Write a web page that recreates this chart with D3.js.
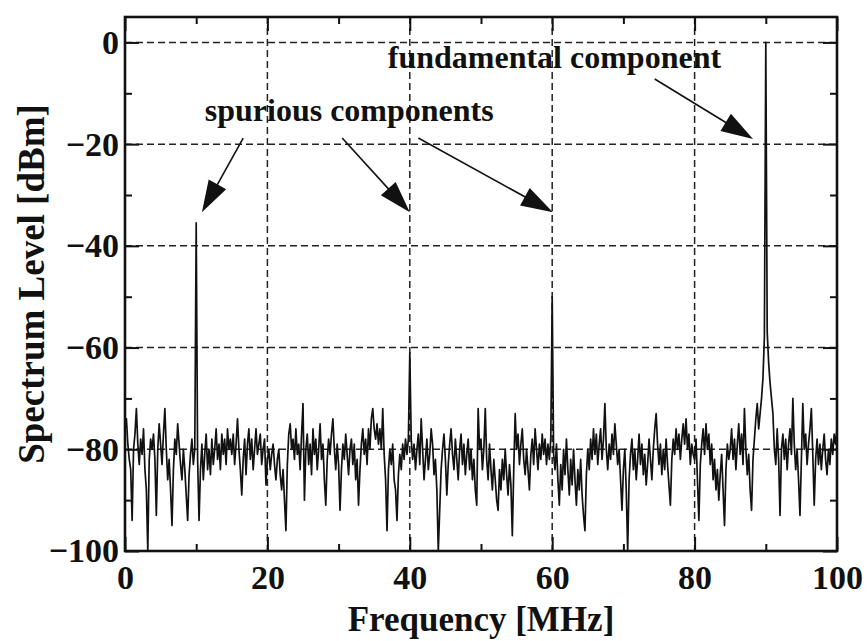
<!DOCTYPE html>
<html>
<head>
<meta charset="utf-8">
<script src="https://cdn.jsdelivr.net/npm/d3@7"></script>
<style>
  body { margin: 0; background: white; }
  svg { display: block; }
  text { font-family: "Liberation Serif", "Times New Roman", serif; font-weight: bold; fill: #111; }
</style>
</head>
<body>
<script>
var freqStep = 0.2;
var levels = [
  -76,-74,-79,-82,-84,-94,-80,-77,-72,-79,-83,-78,-81,-76,-84,-88,-100,-82,-78,-80,-77,-82,-93,-80,-75,
  -79,-83,-77,-72,-80,-86,-82,-88,-95,-84,-78,-81,-75,-79,-83,-86,-80,-84,-89,-94,-85,-81,-78,-83,-80,
  -35.5,-82,-94,-84,-79,-86,-81,-77,-84,-80,-85,-78,-83,-80,-76,-82,-79,-84,-77,-81,-78,-83,-76,-80,-78,
  -81,-77,-83,-79,-74,-80,-84,-89,-82,-78,-85,-79,-76,-82,-78,-84,-80,-76,-81,-79,-77,-83,-80,-78,-87,
  -82,-80,-84,-81,-79,-83,-86,-82,-80,-85,-88,-84,-90,-96,-83,-77,-75,-80,-78,-82,-76,-81,-79,-84,-77,
  -71,-90,-80,-77,-83,-79,-85,-76,-81,-78,-84,-80,-75,-82,-79,-86,-91,-82,-78,-81,-77,-74,-80,-84,-79,
  -83,-92,-84,-79,-82,-77,-81,-85,-80,-78,-83,-79,-86,-82,-91,-84,-79,-76,-81,-78,-83,-76,-80,-74,-72,
  -76,-78,-75,-79,-76,-80,-72,-81,-86,-96,-84,-80,-83,-79,-86,-88,-94,-85,-81,-84,-79,-82,-78,-81,-78,
  -61,-78,-82,-79,-84,-80,-77,-83,-74,-80,-86,-82,-78,-84,-81,-76,-79,-85,-82,-88,-100,-92,-84,-80,-77,
  -82,-89,-83,-79,-76,-81,-84,-78,-82,-86,-80,-77,-83,-79,-85,-81,-78,-84,-80,-86,-82,-88,-91,-72,-80,
  -78,-84,-80,-72,-82,-86,-79,-84,-88,-82,-86,-90,-92,-84,-88,-82,-86,-80,-85,-89,-83,-87,-97,-84,-73,
  -80,-77,-83,-79,-76,-82,-85,-80,-84,-88,-81,-78,-83,-76,-80,-84,-79,-82,-77,-81,-78,-83,-79,-82,-78,
  -50,-81,-84,-79,-86,-91,-83,-88,-80,-85,-78,-84,-89,-82,-87,-80,-86,-91,-84,-88,-82,-89,-93,-96,-85,
  -80,-84,-78,-82,-76,-81,-77,-83,-79,-76,-82,-78,-71,-80,-84,-79,-82,-77,-81,-75,-79,-83,-80,-86,-92,
  -84,-80,-88,-100,-86,-81,-78,-84,-80,-86,-82,-77,-83,-79,-85,-81,-87,-83,-78,-82,-86,-80,-76,-73,-79,
  -83,-79,-85,-80,-84,-78,-83,-87,-91,-82,-78,-81,-76,-80,-77,-82,-78,-75,-79,-74,-80,-77,-83,-79,-81,
  -82,-78,-86,-94,-83,-79,-76,-81,-75,-80,-77,-83,-79,-86,-82,-88,-84,-90,-85,-81,-88,-95,-84,-79,-82,
  -80,-76,-82,-78,-84,-79,-75,-81,-77,-83,-72,-80,-85,-81,-88,-92,-82,-78,-74,-71,-76,-73,-70,-66,-58,
  0,-57,-63,-67,-70,-73,-80,-83,-76,-82,-93,-80,-77,-82,-78,-84,-79,-76,-81,-70,-79,-84,-80,-86,-93,
  -82,-71,-80,-77,-83,-79,-76,-72,-81,-91,-82,-78,-83,-79,-84,-80,-77,-82,-85,-80,-83,-78,-81,-77,-79,
  -76
];
var xTicks = [0, 20, 40, 60, 80, 100];
var xMinor = [10, 30, 50, 70, 90];
var yTicks = [0, -20, -40, -60, -80, -100];
var yMinor = [-10, -30, -50, -70, -90];
var xTitle = "Frequency [MHz]";
var yTitle = "Spectrum Level [dBm]";

var W = 867, H = 641;
var pLeft = 125, pRight = 837, pTop = 17, pBottom = 551;

var svg = d3.select("body").append("svg")
    .attr("width", W).attr("height", H);
svg.append("rect").attr("width", W).attr("height", H).attr("fill", "white");

var x = d3.scaleLinear().domain([0, 100]).range([pLeft, pRight]);
var y = d3.scaleLinear().domain([-100, 5]).range([pBottom, pTop]);

// dashed grid
var grid = svg.append("g").attr("class", "grid");
grid.selectAll(".gx")
    .data(xTicks.filter(function(d) { return d > 0 && d < 100; }))
    .enter().append("line")
    .attr("x1", function(d) { return x(d); }).attr("x2", function(d) { return x(d); })
    .attr("y1", pTop).attr("y2", pBottom);
grid.selectAll(".gy")
    .data(yTicks.filter(function(d) { return d > -100; }))
    .enter().append("line")
    .attr("x1", pLeft).attr("x2", pRight)
    .attr("y1", function(d) { return y(d); }).attr("y2", function(d) { return y(d); });
grid.selectAll("line")
    .attr("stroke", "#222").attr("stroke-width", 1.5).attr("stroke-dasharray", "7,4");

// spectrum trace
svg.append("clipPath").attr("id", "plotclip")
  .append("rect").attr("x", pLeft).attr("y", pTop).attr("width", pRight - pLeft).attr("height", pBottom - pTop);

var line = d3.line()
    .x(function(d, i) { return x(i * freqStep); })
    .y(function(d) { return y(Math.max(d, -100)); });

svg.append("path")
    .datum(levels)
    .attr("clip-path", "url(#plotclip)")
    .attr("d", line)
    .attr("fill", "none")
    .attr("stroke", "#111")
    .attr("stroke-width", 1.7)
    .attr("stroke-linejoin", "round");

// axes with inward ticks on all four sides
function styleAxis(g) {
  g.select(".domain").remove();
  g.selectAll(".tick line").attr("stroke", "#111").attr("stroke-width", 2);
  g.selectAll(".tick text").attr("font-size", 34).attr("fill", "#111");
}
svg.append("g").attr("transform", "translate(0," + pBottom + ")")
    .call(d3.axisBottom(x).tickValues(xTicks).tickSize(-14).tickPadding(14).tickFormat(d3.format("d")))
    .call(styleAxis);
svg.append("g").attr("transform", "translate(0," + pBottom + ")")
    .call(d3.axisBottom(x).tickValues(xMinor).tickSize(-7).tickFormat(""))
    .call(styleAxis);
svg.append("g").attr("transform", "translate(0," + pTop + ")")
    .call(d3.axisTop(x).tickValues(xTicks).tickSize(-14).tickFormat(""))
    .call(styleAxis);
svg.append("g").attr("transform", "translate(0," + pTop + ")")
    .call(d3.axisTop(x).tickValues(xMinor).tickSize(-7).tickFormat(""))
    .call(styleAxis);
svg.append("g").attr("transform", "translate(" + pLeft + ",0)")
    .call(d3.axisLeft(y).tickValues(yTicks).tickSize(-14).tickPadding(6)
      .tickFormat(function(d) { return d < 0 ? "\u2212" + Math.abs(d) : d; }))
    .call(styleAxis);
svg.append("g").attr("transform", "translate(" + pLeft + ",0)")
    .call(d3.axisLeft(y).tickValues(yMinor).tickSize(-7).tickFormat(""))
    .call(styleAxis);
svg.append("g").attr("transform", "translate(" + pRight + ",0)")
    .call(d3.axisRight(y).tickValues(yTicks).tickSize(-14).tickFormat(""))
    .call(styleAxis);
svg.append("g").attr("transform", "translate(" + pRight + ",0)")
    .call(d3.axisRight(y).tickValues(yMinor).tickSize(-7).tickFormat(""))
    .call(styleAxis);

// frame
svg.append("rect")
    .attr("x", pLeft).attr("y", pTop).attr("width", pRight - pLeft).attr("height", pBottom - pTop)
    .attr("fill", "none").attr("stroke", "#111").attr("stroke-width", 2.6);

// axis titles
svg.append("text")
    .attr("x", (pLeft + pRight) / 2).attr("y", 631)
    .attr("text-anchor", "middle").attr("font-size", 35)
    .text(xTitle);
svg.append("text")
    .attr("transform", "translate(44," + 284 + ") rotate(-90)")
    .attr("text-anchor", "middle").attr("font-size", 37)
    .text(yTitle);

// annotations (positions in data units)
svg.append("text").attr("x", x(11.2)).attr("y", y(-15.5))
    .attr("font-size", 32).text("spurious components");
svg.append("text").attr("x", x(36.9)).attr("y", y(-5.05))
    .attr("font-size", 32).text("fundamental component");

var arrows = [
  [[16.6, -18.8], [10.8, -33.4]],
  [[30.5, -18.8], [40.0, -33.4]],
  [[41.2, -18.8], [60.1, -33.4]],
  [[74.4, -7.2], [88.2, -19.0]]
];
var headLen = 32, headHalf = 10;
arrows.forEach(function(a) {
  var x0 = x(a[0][0]), y0 = y(a[0][1]), x1 = x(a[1][0]), y1 = y(a[1][1]);
  var dx = x1 - x0, dy = y1 - y0, len = Math.sqrt(dx * dx + dy * dy);
  var ux = dx / len, uy = dy / len;
  var bx = x1 - ux * headLen, by = y1 - uy * headLen;
  svg.append("line")
      .attr("x1", x0).attr("y1", y0).attr("x2", bx + ux * 4).attr("y2", by + uy * 4)
      .attr("stroke", "#111").attr("stroke-width", 1.6);
  svg.append("path")
      .attr("d", "M" + x1 + "," + y1 +
                 "L" + (bx - uy * headHalf) + "," + (by + ux * headHalf) +
                 "L" + (bx + uy * headHalf) + "," + (by - ux * headHalf) + "Z")
      .attr("fill", "#111");
});
</script>
</body>
</html>
